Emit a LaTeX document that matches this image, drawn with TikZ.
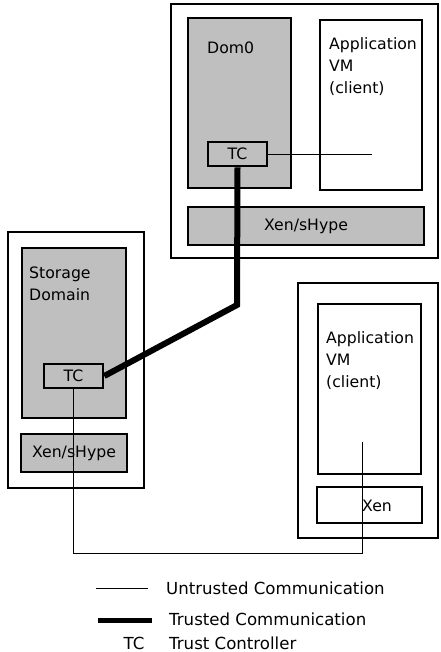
\documentclass[tikz,border=0pt]{standalone}
\usepackage{fontspec}
\setmainfont{DejaVu Sans}
\begin{document}
\begin{tikzpicture}[x=1pt,y=-1pt,
  frame/.style={draw,line width=2.6pt,fill=white,inner sep=0pt},
  gbox/.style={draw,line width=2.6pt,fill=black!25,inner sep=0pt},
  lbl/.style={inner sep=0pt,anchor=west,font=\fontsize{15.7}{22}\selectfont,align=left},
  clbl/.style={inner sep=0pt,font=\fontsize{15.7}{22}\selectfont},
  leg/.style={inner sep=0pt,font=\fontsize{16.6}{20}\selectfont},
  thin/.style={line width=0.9pt},
  thick/.style={line width=6pt}]
\useasboundingbox (0,0) rectangle (440,652);
% top host
\node[frame,minimum width=267pt,minimum height=254pt] (host1) at (304.5,131) {};
\node[gbox,minimum width=103pt,minimum height=170pt] (dom0) at (239.5,103) {};
\node[frame,minimum width=102pt,minimum height=170pt] (app1) at (371,105) {};
\node[gbox,minimum width=236pt,minimum height=38pt] (xen1) at (306,226) {};
\node[gbox,minimum width=59pt,minimum height=24pt] (tc1) at (237.5,154) {};
\node[clbl] (tc1t) at (tc1) {TC};
\node[clbl] (xen1t) at (xen1) {Xen/sHype};
\node[lbl] (dom0t) at (207,48) {Dom0};
\node[lbl,anchor=north west] (app1t) at (329,37) {Application\\VM\\(client)};
% storage host
\node[frame,minimum width=136pt,minimum height=256pt] (host2) at (76,360) {};
\node[gbox,minimum width=104pt,minimum height=170pt] (sd) at (74,333) {};
\node[gbox,minimum width=106pt,minimum height=38pt] (xen2) at (74,453) {};
\node[gbox,minimum width=59pt,minimum height=24pt] (tc2) at (73.5,376) {};
\node[clbl] (tc2t) at (tc2) {TC};
\node[clbl] (xen2t) at (xen2) {Xen/sHype};
\node[lbl,anchor=north west] (sdt) at (29,267) {Storage\\Domain};
% right host
\node[frame,minimum width=140pt,minimum height=255pt] (host3) at (368,410.5) {};
\node[frame,minimum width=103pt,minimum height=170pt] (app2) at (369.5,389) {};
\node[frame,minimum width=105pt,minimum height=36pt] (xen3) at (369.5,505) {};
\node[lbl] (xen3t) at (362,506) {Xen};
\node[lbl,anchor=north west] (app2t) at (326,331) {Application\\VM\\(client)};
% connectors
\coordinate (e1) at (372,154);
\coordinate (e2) at (362,442);
\coordinate (k1) at (237,305);
\draw[thin] (tc1.east) -- (e1);
\draw[thick] (tc1.south) -- (k1) -- (tc2.east);
\draw[thin] (tc2.south) -- (tc2.south |- 0,553) -- (e2 |- 0,553) -- (e2);
% legend
\coordinate (l1a) at (96,588); \coordinate (l1b) at (148,588);
\coordinate (l2a) at (98,620); \coordinate (l2b) at (152,620);
\draw[thin] (l1a) -- (l1b);
\draw[line width=5pt] (l2a) -- (l2b);
\node[leg,anchor=west] (lg1) at (166,588) {Untrusted Communication};
\node[leg,anchor=west] (lg2) at (169,619) {Trusted Communication};
\node[leg] (lg3a) at (134,643) {TC};
\node[leg,anchor=west] (lg3) at (169,643) {Trust Controller};
\end{tikzpicture}
\end{document}
